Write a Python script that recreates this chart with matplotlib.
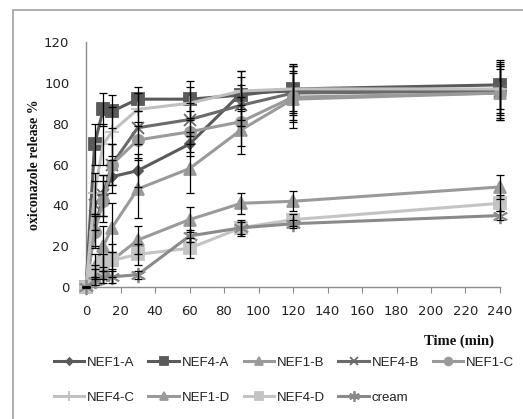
import numpy as np
import matplotlib
matplotlib.use("Agg")
import matplotlib.pyplot as plt
from matplotlib.patches import Rectangle

# sampling times (min)
t = [0, 5, 10, 15, 30, 60, 90, 120, 240]

# release % per formulation
nef1_a = [0, 28, 45, 54, 57, 70, 95, 96, 96]
nef4_a = [0, 70, 87, 86, 92, 92, 94, 97, 99]
nef1_b = [0, 10, 20, 29, 48, 58, 77, 92, 95]
nef4_b = [0, 40, 45, 60, 78, 82, 89, 95, 96]
nef1_c = [0, 27, 42, 60, 72, 76, 81, 93, 95]
nef4_c = [0, 46, 70, 76, 87, 90, 96, 97, 97]
nef1_d = [0, 5, 10, 13, 23, 33, 41, 42, 49]
nef4_d = [0, 8, 12, 13, 16, 19, 29, 33, 41]
cream = [0, 3, 5, 5, 6, 25, 29, 31, 35]

# standard deviations (error bars)
err_nef1_a = [0, 8, 10, 8, 8, 6, 8, 12, 12]
err_nef4_a = [0, 10, 8, 8, 6, 9, 12, 12, 12]
err_nef1_b = [0, 6, 10, 12, 14, 12, 12, 14, 13]
err_nef4_b = [0, 12, 10, 10, 8, 8, 10, 13, 14]
err_nef1_c = [0, 8, 10, 10, 9, 10, 12, 12, 12]
err_nef4_c = [0, 10, 10, 12, 8, 8, 10, 11, 12]
err_nef1_d = [0, 4, 6, 8, 7, 6, 5, 5, 6]
err_nef4_d = [0, 3, 4, 4, 5, 5, 4, 3, 4]
err_cream = [0, 2, 3, 3, 2, 3, 3, 2, 2]

labels = ["NEF1-A", "NEF4-A", "NEF1-B", "NEF4-B", "NEF1-C",
          "NEF4-C", "NEF1-D", "NEF4-D", "cream"]
values = [nef1_a, nef4_a, nef1_b, nef4_b, nef1_c, nef4_c, nef1_d, nef4_d, cream]
errors = [err_nef1_a, err_nef4_a, err_nef1_b, err_nef4_b, err_nef1_c,
          err_nef4_c, err_nef1_d, err_nef4_d, err_cream]

colors = ["#5a5a5a", "#5a5a5a", "#9a9a9a", "#6a6a6a", "#9a9a9a",
          "#c0c0c0", "#9a9a9a", "#c4c4c4", "#8a8a8a"]
markers = ["D", "s", "^", "x", "o", "+", "^", "s", (6, 2, 0)]
msizes = [5, 8, 8, 9, 8, 10, 8, 9, 11]

fig = plt.figure(figsize=(5.23, 4.19), dpi=100)
ax = fig.add_axes([86 / 523, 1 - 287 / 419, 414 / 523, 245 / 419])

handles = []
for y, e, c, m, ms, lab in zip(values, errors, colors, markers, msizes, labels):
    ax.errorbar(t, y, yerr=e, fmt="none", ecolor="black", elinewidth=0.9,
                capsize=3, capthick=0.9, zorder=3, clip_on=False)
    h, = ax.plot(t, y, color=c, lw=2.2, marker=m, markersize=ms,
                 markeredgewidth=1.3, markeredgecolor=c, label=lab, zorder=2,
                 clip_on=False)
    handles.append(h)

ax.set_xlim(0, 240)
ax.set_ylim(0, 120)
ax.set_xticks(np.arange(0, 241, 20))
ax.set_yticks(np.arange(0, 121, 20))
for s in ["top", "right"]:
    ax.spines[s].set_visible(False)
for s in ["left", "bottom"]:
    ax.spines[s].set_color("#8c8c8c")
    ax.spines[s].set_linewidth(1.0)
ax.spines["left"].set_zorder(1)
ax.tick_params(axis="x", direction="out", length=4, color="#8c8c8c",
               pad=9, labelsize=9.5, labelcolor="#222222")
ax.tick_params(axis="y", length=0, pad=12, labelsize=9.5, labelcolor="#222222")

fig.text(34 / 523, 1 - 165 / 419, "oxiconazole release %", rotation=90,
         ha="center", va="center", fontsize=10, fontweight="bold",
         family="Liberation Serif", color="#111111")
fig.text(494 / 523, 1 - 341 / 419, "Time (min)", ha="right", va="center",
         fontsize=10.5, fontweight="bold", family="Liberation Serif",
         color="#111111")

# legend fills by column, so reorder to read row by row
order = [0, 5, 1, 6, 2, 7, 3, 8, 4]
leg = fig.legend(handles=[handles[i] for i in order], loc="upper left",
                 bbox_to_anchor=(47 / 523, 1 - 350 / 419), ncol=5,
                 frameon=False, prop={"family": "Liberation Sans", "size": 9.5},
                 handlelength=2.3, handletextpad=0.2, columnspacing=1.05,
                 labelspacing=1.7, borderpad=0, markerscale=0.7)
for txt in leg.get_texts():
    txt.set_color("#222222")

# outer chart border
fig.patches.append(Rectangle((13 / 523, -0.1), 1.2, 1 - 10 / 419 + 0.1,
                             transform=fig.transFigure, fill=False,
                             edgecolor="#a0a0a0", lw=1.2))

fig.savefig("out.png", dpi=100)
